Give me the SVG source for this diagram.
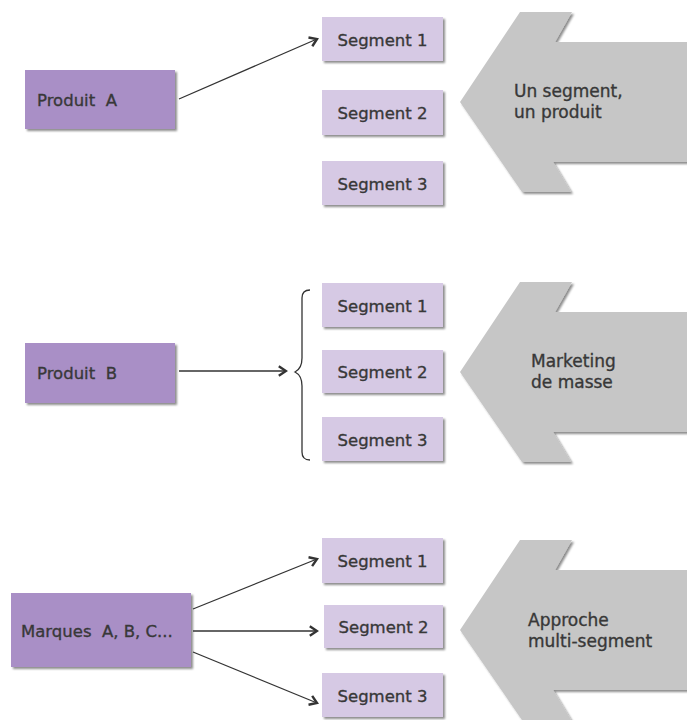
<svg xmlns="http://www.w3.org/2000/svg" width="687" height="720" viewBox="0 0 687 720">
  <defs>
    <filter id="shadow" x="-10%" y="-10%" width="125%" height="130%">
      <feGaussianBlur in="SourceAlpha" stdDeviation="1"/>
      <feOffset dx="2" dy="2" result="off"/>
      <feFlood flood-color="#000" flood-opacity="0.45"/>
      <feComposite in2="off" operator="in"/>
      <feMerge>
        <feMergeNode/>
        <feMergeNode in="SourceGraphic"/>
      </feMerge>
    </filter>
    <marker id="arrow" markerUnits="userSpaceOnUse" markerWidth="12" markerHeight="12" viewBox="0 0 10 10" refX="8" refY="5" orient="auto">
      <path d="M2,1 L8,5 L2,9" fill="none" stroke="#333" stroke-width="2" stroke-linejoin="miter"/>
    </marker>
    <style>
      text { font-family: "DejaVu Sans", "Liberation Sans", sans-serif; fill: #383838; stroke: #383838; stroke-width: 0.35; white-space: pre; }
      .prod { fill: #a98fc6; filter: url(#shadow); }
      .seg { fill: #d6c9e4; filter: url(#shadow); }
      .seg-t { font-size: 16.5px; text-anchor: middle; }
      .prod-t { font-size: 16.5px; }
      .big { fill: #c6c6c6; filter: url(#shadow); }
      .big-t { font-size: 17px; }
      .conn { stroke: #333; stroke-width: 1.3; fill: none; }
    </style>
  </defs>

  <!-- Block 1: one segment, one product -->
  <g id="approach-1">
    <path class="big" d="M520,12 L572,12 L555,42 L687,42 L687,162 L553,162 L571,192 L522,192 L460,102 Z"/>
    <text class="big-t" x="514" y="97">Un segment,</text>
    <text class="big-t" x="514" y="118">un produit</text>
  </g>
  <g id="produit-a">
    <rect class="prod" x="25" y="70" width="150" height="59"/>
    <text class="prod-t" x="37" y="106">Produit  A</text>
  </g>
  <g id="a-seg1">
    <rect class="seg" x="322" y="17" width="121" height="44"/>
    <text class="seg-t" x="382.5" y="45.5">Segment 1</text>
  </g>
  <g id="a-seg2">
    <rect class="seg" x="322" y="90" width="121" height="45"/>
    <text class="seg-t" x="382.5" y="119">Segment 2</text>
  </g>
  <g id="a-seg3">
    <rect class="seg" x="322" y="161" width="121" height="44"/>
    <text class="seg-t" x="382.5" y="189.5">Segment 3</text>
  </g>

  <!-- Block 2: mass marketing -->
  <g id="approach-2">
    <path class="big" d="M520,282 L572,282 L555,312 L687,312 L687,432 L553,432 L571,462 L522,462 L460,372 Z"/>
    <text class="big-t" x="531" y="367">Marketing</text>
    <text class="big-t" x="531" y="388">de masse</text>
  </g>
  <g id="produit-b">
    <rect class="prod" x="25" y="343" width="150" height="60"/>
    <text class="prod-t" x="37" y="379">Produit  B</text>
  </g>
  <g id="b-seg1">
    <rect class="seg" x="322" y="283" width="121" height="44"/>
    <text class="seg-t" x="382.5" y="311.5">Segment 1</text>
  </g>
  <g id="b-seg2">
    <rect class="seg" x="322" y="350" width="121" height="43"/>
    <text class="seg-t" x="382.5" y="378">Segment 2</text>
  </g>
  <g id="b-seg3">
    <rect class="seg" x="322" y="417" width="121" height="44"/>
    <text class="seg-t" x="382.5" y="445.5">Segment 3</text>
  </g>

  <!-- Block 3: multi-segment approach -->
  <g id="approach-3">
    <path class="big" d="M520,540 L572,540 L555,570 L687,570 L687,690 L553,690 L571,720 L522,720 L460,630 Z"/>
    <text class="big-t" x="528" y="626">Approche</text>
    <text class="big-t" x="528" y="647">multi-segment</text>
  </g>
  <g id="marques">
    <rect class="prod" x="11" y="593" width="180" height="74"/>
    <text class="prod-t" x="21" y="637">Marques  A, B, C...</text>
  </g>
  <g id="c-seg1">
    <rect class="seg" x="322" y="538" width="121" height="45"/>
    <text class="seg-t" x="382.5" y="567">Segment 1</text>
  </g>
  <g id="c-seg2">
    <rect class="seg" x="324" y="605" width="119" height="43"/>
    <text class="seg-t" x="383.5" y="633">Segment 2</text>
  </g>
  <g id="c-seg3">
    <rect class="seg" x="322" y="673" width="121" height="44"/>
    <text class="seg-t" x="382.5" y="701.5">Segment 3</text>
  </g>

  <!-- Connectors -->
  <g id="connectors">
    <line class="conn" x1="179" y1="99" x2="317" y2="39" marker-end="url(#arrow)"/>
    <line class="conn" x1="179" y1="371" x2="286" y2="371" marker-end="url(#arrow)"/>
    <path class="conn" d="M310,290 C304,290 302,293 302,298 L302,358 C302,366 299,370 295,372 C299,374 302,378 302,386 L302,452 C302,457 304,460 310,460"/>
    <line class="conn" x1="193" y1="609" x2="317" y2="559" marker-end="url(#arrow)"/>
    <line class="conn" x1="193" y1="631" x2="317" y2="631" marker-end="url(#arrow)"/>
    <line class="conn" x1="193" y1="652" x2="317" y2="703" marker-end="url(#arrow)"/>
  </g>
</svg>
